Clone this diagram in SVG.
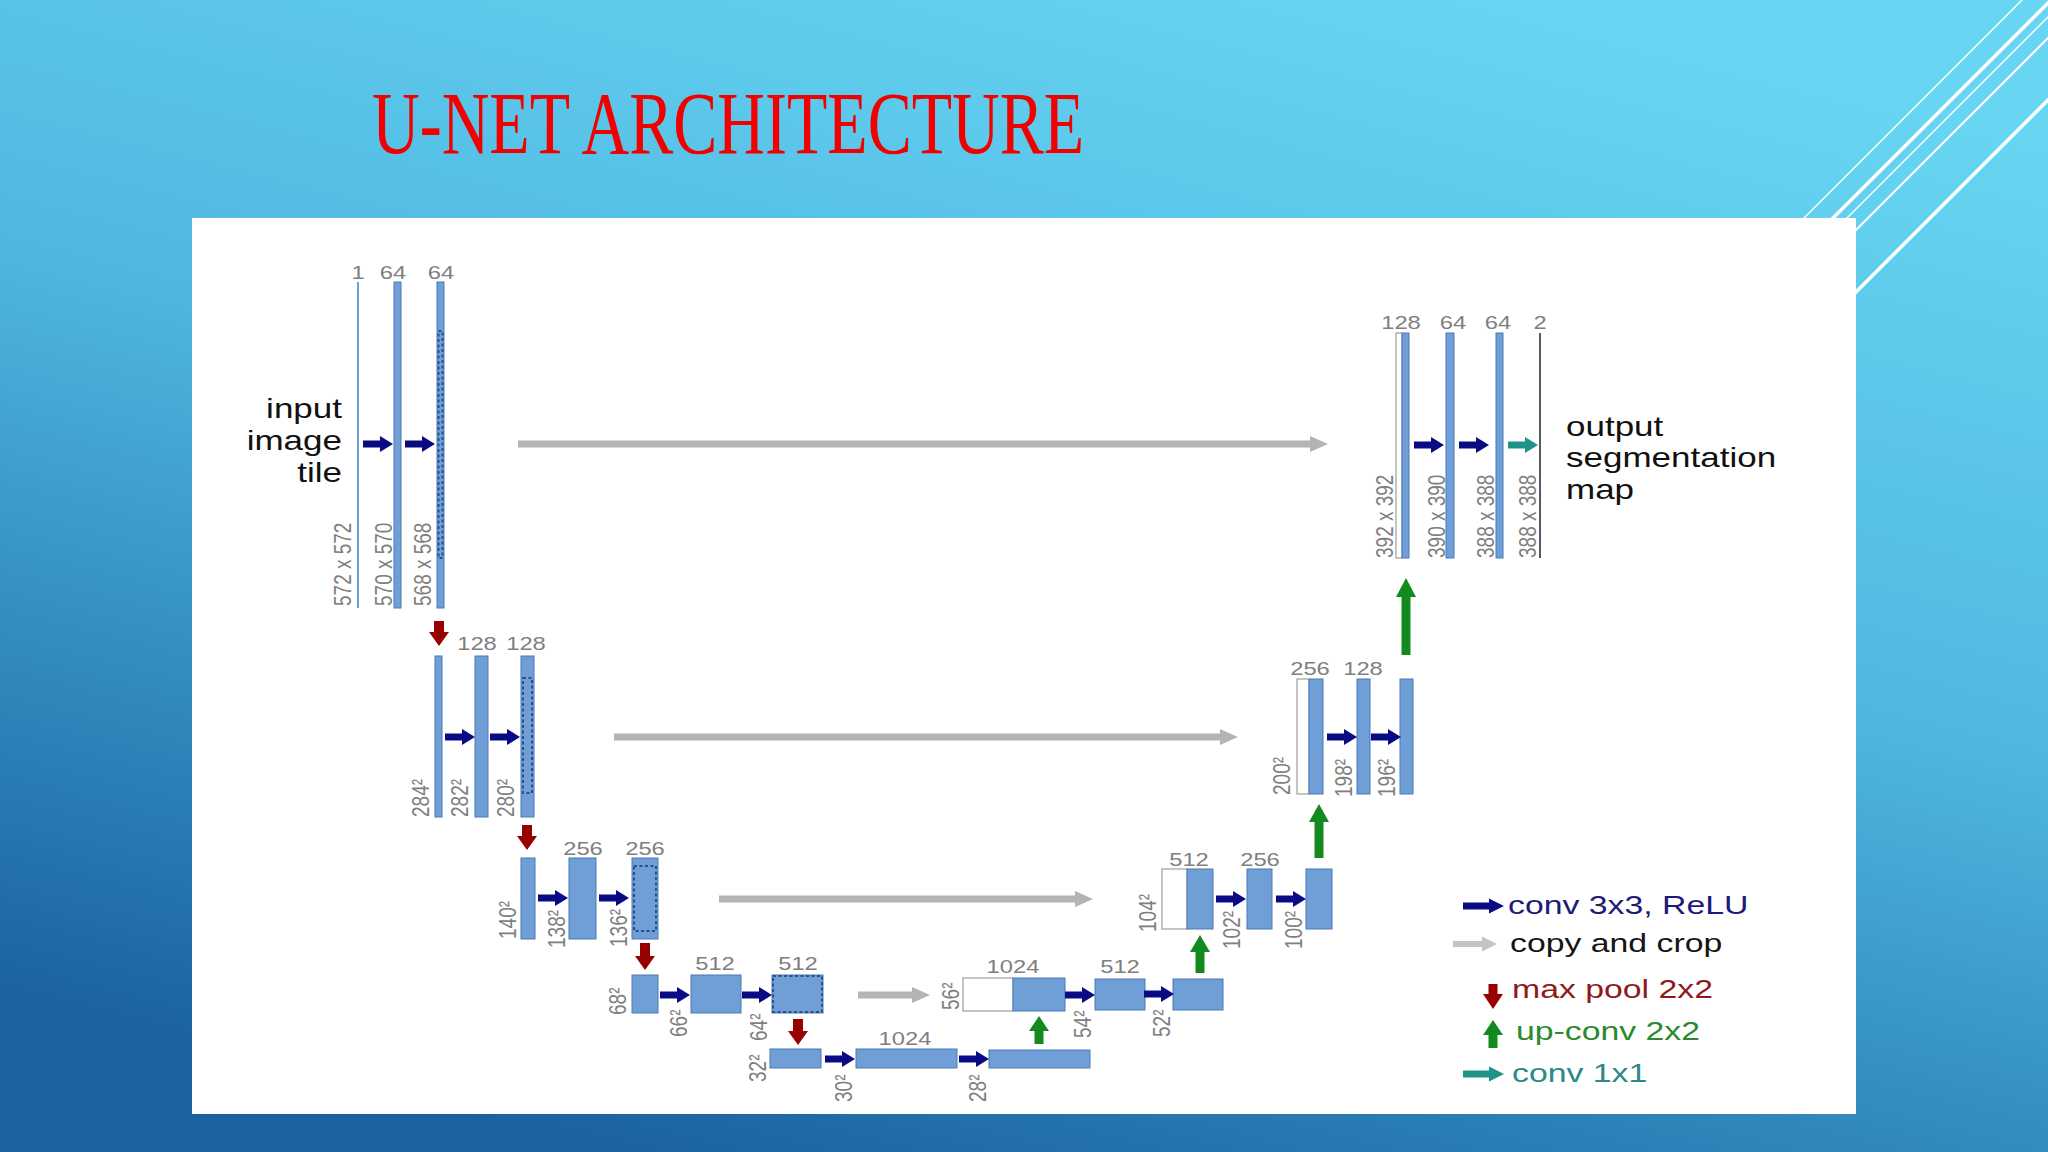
<svg xmlns="http://www.w3.org/2000/svg" xmlns:xlink="http://www.w3.org/1999/xlink" width="2048" height="1152" viewBox="0 0 2048 1152">
<defs>
<linearGradient id="bg" x1="0.75" y1="0" x2="0.3" y2="1">
<stop offset="0" stop-color="#68d6f2"/>
<stop offset="0.45" stop-color="#4fb8e2"/>
<stop offset="1" stop-color="#1a62a0"/>
</linearGradient>
<path id="cv" d="M0,-3.5 H17 V-8 L30,0 L17,8 V3.5 H0 Z"/>
<style>
.fm{fill:#6f9fd6;stroke:#4a7bb4;stroke-width:1}
.wh{fill:#ffffff;stroke:#8c8c8c;stroke-width:1}
.dash{fill:none;stroke:#27508c;stroke-width:2;stroke-dasharray:3 2.5}
.lb{font-family:"Liberation Sans",Arial,sans-serif;font-size:19px;fill:#7f7f7f}
.c{text-anchor:middle}
.io{font-family:"Liberation Sans",Arial,sans-serif;font-size:28px;fill:#111111}
.lg{font-family:"Liberation Sans",Arial,sans-serif;font-size:26px}
.conv{fill:#0a0a84}
.copy{fill:#b4b4b4}
.pool{fill:#990000}
.up{fill:#138a1e}
.c11{fill:#1f9388}
.ln{stroke:#ffffff;fill:none}
</style>
</defs>

<rect x="0" y="0" width="2048" height="1152" fill="url(#bg)"/>
<g id="decor">
<line class="ln" x1="2022" y1="0" x2="1800" y2="222" stroke-width="1.5"/>
<line class="ln" x1="2051" y1="0" x2="1829" y2="222" stroke-width="3.5"/>
<line class="ln" x1="2065" y1="0" x2="1843" y2="222" stroke-width="1.5"/>
<line class="ln" x1="2086" y1="0" x2="1830" y2="256" stroke-width="2"/>
<line class="ln" x1="2148" y1="0" x2="1830" y2="318" stroke-width="3.5"/>
</g>
<text id="title" x="372" y="153" font-family="'Liberation Serif','Times New Roman',serif" font-size="88" fill="#f20000" textLength="712" lengthAdjust="spacingAndGlyphs">U-NET ARCHITECTURE</text>

<rect id="panel" x="192" y="218" width="1664" height="896" fill="#ffffff"/>

<!-- Level 1 encoder -->
<g id="in_tile">
<rect x="357" y="282" width="2" height="326" fill="#6f9fd6"/>
<text class="lb c" transform="translate(358,279) scale(1.25,1)">1</text>
<text class="lb" transform="translate(351,606) scale(1.25,1) rotate(-90)">572 x 572</text>
<text class="io" text-anchor="end" transform="translate(342,418) scale(1.25,1)">input</text>
<text class="io" text-anchor="end" transform="translate(342,450) scale(1.25,1)">image</text>
<text class="io" text-anchor="end" transform="translate(342,482) scale(1.25,1)">tile</text>
</g>
<g id="e1a">
<rect class="fm" x="394" y="282" width="7" height="326"/>
<text class="lb c" transform="translate(393,279) scale(1.25,1)">64</text>
<text class="lb" transform="translate(392,606) scale(1.25,1) rotate(-90)">570 x 570</text>
</g>
<g id="e1b">
<rect class="fm" x="437" y="282" width="7" height="326"/>
<rect class="dash" x="438.5" y="331" width="4" height="227"/>
<text class="lb c" transform="translate(441,279) scale(1.25,1)">64</text>
<text class="lb" transform="translate(431,606) scale(1.25,1) rotate(-90)">568 x 568</text>
</g>

<!-- Level 2 encoder -->
<g id="e2p">
<rect class="fm" x="435" y="656" width="7" height="161"/>
<text class="lb" transform="translate(429,817) scale(1.25,1) rotate(-90)">284²</text>
</g>
<g id="e2a">
<rect class="fm" x="475" y="656" width="13" height="161"/>
<text class="lb c" transform="translate(477,650) scale(1.25,1)">128</text>
<text class="lb" transform="translate(468,817) scale(1.25,1) rotate(-90)">282²</text>
</g>
<g id="e2b">
<rect class="fm" x="521" y="656" width="13" height="161"/>
<rect class="dash" x="523" y="678" width="9" height="115"/>
<text class="lb c" transform="translate(526,650) scale(1.25,1)">128</text>
<text class="lb" transform="translate(514,817) scale(1.25,1) rotate(-90)">280²</text>
</g>

<!-- Level 3 encoder -->
<g id="e3p">
<rect class="fm" x="521" y="858" width="14" height="81"/>
<text class="lb" transform="translate(516,939) scale(1.25,1) rotate(-90)">140²</text>
</g>
<g id="e3a">
<rect class="fm" x="569" y="858" width="27" height="81"/>
<text class="lb c" transform="translate(583,855) scale(1.25,1)">256</text>
<text class="lb" transform="translate(565,948) scale(1.25,1) rotate(-90)">138²</text>
</g>
<g id="e3b">
<rect class="fm" x="632" y="858" width="26" height="81"/>
<rect class="dash" x="634" y="866" width="22" height="65"/>
<text class="lb c" transform="translate(645,855) scale(1.25,1)">256</text>
<text class="lb" transform="translate(627,947) scale(1.25,1) rotate(-90)">136²</text>
</g>

<!-- Level 4 encoder -->
<g id="e4p">
<rect class="fm" x="632" y="975" width="26" height="38"/>
<text class="lb" transform="translate(626,1015) scale(1.25,1) rotate(-90)">68²</text>
</g>
<g id="e4a">
<rect class="fm" x="691" y="975" width="50" height="38"/>
<text class="lb c" transform="translate(715,970) scale(1.25,1)">512</text>
<text class="lb" transform="translate(687,1037) scale(1.25,1) rotate(-90)">66²</text>
</g>
<g id="e4b">
<rect class="fm" x="772" y="975" width="51" height="38"/>
<rect class="dash" x="773" y="976" width="49" height="36"/>
<text class="lb c" transform="translate(798,970) scale(1.25,1)">512</text>
<text class="lb" transform="translate(767,1041) scale(1.25,1) rotate(-90)">64²</text>
</g>

<!-- Bottleneck -->
<g id="b5p">
<rect class="fm" x="770" y="1049" width="51" height="19"/>
<text class="lb" transform="translate(766,1082) scale(1.25,1) rotate(-90)">32²</text>
</g>
<g id="b5a">
<rect class="fm" x="856" y="1049" width="101" height="19"/>
<text class="lb c" transform="translate(905,1045) scale(1.25,1)">1024</text>
<text class="lb" transform="translate(852,1102) scale(1.25,1) rotate(-90)">30²</text>
</g>
<g id="b5b">
<rect class="fm" x="989" y="1050" width="101" height="18"/>
<text class="lb" transform="translate(986,1102) scale(1.25,1) rotate(-90)">28²</text>
</g>

<!-- Level 4 decoder -->
<g id="d4u">
<rect class="wh" x="963" y="978" width="50" height="33"/>
<rect class="fm" x="1013" y="978" width="52" height="33"/>
<text class="lb c" transform="translate(1013,973) scale(1.25,1)">1024</text>
<text class="lb" transform="translate(959,1010) scale(1.25,1) rotate(-90)">56²</text>
</g>
<g id="d4a">
<rect class="fm" x="1095" y="979" width="50" height="31"/>
<text class="lb c" transform="translate(1120,973) scale(1.25,1)">512</text>
<text class="lb" transform="translate(1091,1038) scale(1.25,1) rotate(-90)">54²</text>
</g>
<g id="d4b">
<rect class="fm" x="1173" y="979" width="50" height="31"/>
<text class="lb" transform="translate(1170,1037) scale(1.25,1) rotate(-90)">52²</text>
</g>

<!-- Level 3 decoder -->
<g id="d3u">
<rect class="wh" x="1162" y="869" width="25" height="60"/>
<rect class="fm" x="1187" y="869" width="26" height="60"/>
<text class="lb c" transform="translate(1189,866) scale(1.25,1)">512</text>
<text class="lb" transform="translate(1156,932) scale(1.25,1) rotate(-90)">104²</text>
</g>
<g id="d3a">
<rect class="fm" x="1247" y="869" width="25" height="60"/>
<text class="lb c" transform="translate(1260,866) scale(1.25,1)">256</text>
<text class="lb" transform="translate(1240,949) scale(1.25,1) rotate(-90)">102²</text>
</g>
<g id="d3b">
<rect class="fm" x="1306" y="869" width="26" height="60"/>
<text class="lb" transform="translate(1302,949) scale(1.25,1) rotate(-90)">100²</text>
</g>

<!-- Level 2 decoder -->
<g id="d2u">
<rect class="wh" x="1297" y="679" width="12" height="115"/>
<rect class="fm" x="1309" y="679" width="14" height="115"/>
<text class="lb c" transform="translate(1310,675) scale(1.25,1)">256</text>
<text class="lb" transform="translate(1290,795) scale(1.25,1) rotate(-90)">200²</text>
</g>
<g id="d2a">
<rect class="fm" x="1357" y="679" width="13" height="115"/>
<text class="lb c" transform="translate(1363,675) scale(1.25,1)">128</text>
<text class="lb" transform="translate(1352,797) scale(1.25,1) rotate(-90)">198²</text>
</g>
<g id="d2b">
<rect class="fm" x="1400" y="679" width="13" height="115"/>
<text class="lb" transform="translate(1395,797) scale(1.25,1) rotate(-90)">196²</text>
</g>

<!-- Level 1 decoder -->
<g id="d1u">
<rect class="wh" x="1396" y="333" width="6" height="225"/>
<rect class="fm" x="1402" y="333" width="7" height="225"/>
<text class="lb c" transform="translate(1401,329) scale(1.25,1)">128</text>
<text class="lb" transform="translate(1393,558) scale(1.25,1) rotate(-90)">392 x 392</text>
</g>
<g id="d1a">
<rect class="fm" x="1446" y="333" width="8" height="225"/>
<text class="lb c" transform="translate(1453,329) scale(1.25,1)">64</text>
<text class="lb" transform="translate(1445,558) scale(1.25,1) rotate(-90)">390 x 390</text>
</g>
<g id="d1b">
<rect class="fm" x="1496" y="333" width="7" height="225"/>
<text class="lb c" transform="translate(1498,329) scale(1.25,1)">64</text>
<text class="lb" transform="translate(1494,558) scale(1.25,1) rotate(-90)">388 x 388</text>
</g>
<g id="out_map">
<rect x="1539" y="333" width="2" height="225" fill="#555a66"/>
<text class="lb c" transform="translate(1540,329) scale(1.25,1)">2</text>
<text class="lb" transform="translate(1536,558) scale(1.25,1) rotate(-90)">388 x 388</text>
<text class="io" transform="translate(1566,436) scale(1.25,1)">output</text>
<text class="io" transform="translate(1566,467) scale(1.25,1)">segmentation</text>
<text class="io" transform="translate(1566,499) scale(1.25,1)">map</text>
</g>

<g id="connectors">
<!-- copy and crop -->
<path class="copy" d="M518,440.5 H1310 V436 L1328,444 L1310,452 V447.5 H518 Z"/>
<path class="copy" d="M614,733.5 H1220 V729 L1238,737 L1220,745 V740.5 H614 Z"/>
<path class="copy" d="M719,895.5 H1075 V891 L1093,899 L1075,907 V902.5 H719 Z"/>
<path class="copy" d="M858,991.5 H912 V987 L930,995 L912,1003 V998.5 H858 Z"/>
<!-- conv 3x3 -->
<use href="#cv" class="conv" x="363" y="444"/>
<use href="#cv" class="conv" x="405" y="444"/>
<use href="#cv" class="conv" x="445" y="737"/>
<use href="#cv" class="conv" x="490" y="737"/>
<use href="#cv" class="conv" x="538" y="898"/>
<use href="#cv" class="conv" x="599" y="898"/>
<use href="#cv" class="conv" x="660" y="995"/>
<use href="#cv" class="conv" x="742" y="995"/>
<use href="#cv" class="conv" x="825" y="1059"/>
<use href="#cv" class="conv" x="959" y="1059"/>
<use href="#cv" class="conv" x="1065" y="995"/>
<use href="#cv" class="conv" x="1144" y="994"/>
<use href="#cv" class="conv" x="1216" y="899"/>
<use href="#cv" class="conv" x="1276" y="899"/>
<use href="#cv" class="conv" x="1327" y="737"/>
<use href="#cv" class="conv" x="1371" y="737"/>
<use href="#cv" class="conv" x="1414" y="445"/>
<use href="#cv" class="conv" x="1459" y="445"/>
<use href="#cv" class="c11" x="1508" y="445"/>
<!-- max pool -->
<path class="pool" d="M434,621 H444 V632 H449 L439,646 L429,632 H434 Z"/>
<path class="pool" d="M522,825 H532 V836 H537 L527,850 L517,836 H522 Z"/>
<path class="pool" d="M640,943 H650 V956 H655 L645,970 L635,956 H640 Z"/>
<path class="pool" d="M793,1019 H803 V1031 H808 L798,1045 L788,1031 H793 Z"/>
<!-- up-conv -->
<path class="up" d="M1034.5,1044 V1031 H1029 L1039,1016 L1049,1031 H1043.5 V1044 Z"/>
<path class="up" d="M1195.5,973 V952 H1190 L1200,935 L1210,952 H1204.5 V973 Z"/>
<path class="up" d="M1314.5,858 V822 H1309 L1319,804 L1329,822 H1323.5 V858 Z"/>
<path class="up" d="M1401.5,655 V597 H1396 L1406,578 L1416,597 H1410.5 V655 Z"/>
</g>

<g id="legend">
<path class="conv" d="M1463,902.5 H1489 V898.5 L1504,906 L1489,913.5 V909.5 H1463 Z"/>
<text class="lg" fill="#1c1c78" transform="translate(1508,914) scale(1.3,1)">conv 3x3, ReLU</text>
<path fill="#c4c4c4" d="M1453,941 H1482 V936.5 L1497,944 L1482,951.5 V947 H1453 Z"/>
<text class="lg" fill="#151515" transform="translate(1510,952) scale(1.3,1)">copy and crop</text>
<path class="pool" d="M1488.5,984 H1497.5 V994 H1503 L1493,1009 L1483,994 H1488.5 Z"/>
<text class="lg" fill="#8e1b1b" transform="translate(1512,998) scale(1.3,1)">max pool 2x2</text>
<path class="up" d="M1488.5,1048 V1035 H1483 L1493,1020 L1503,1035 H1497.5 V1048 Z"/>
<text class="lg" fill="#2b8a2b" transform="translate(1516,1040) scale(1.3,1)">up-conv 2x2</text>
<path class="c11" d="M1463,1070.5 H1489 V1066.5 L1504,1074 L1489,1081.5 V1077.5 H1463 Z"/>
<text class="lg" fill="#2a8a86" transform="translate(1512,1082) scale(1.3,1)">conv 1x1</text>
</g>
</svg>
